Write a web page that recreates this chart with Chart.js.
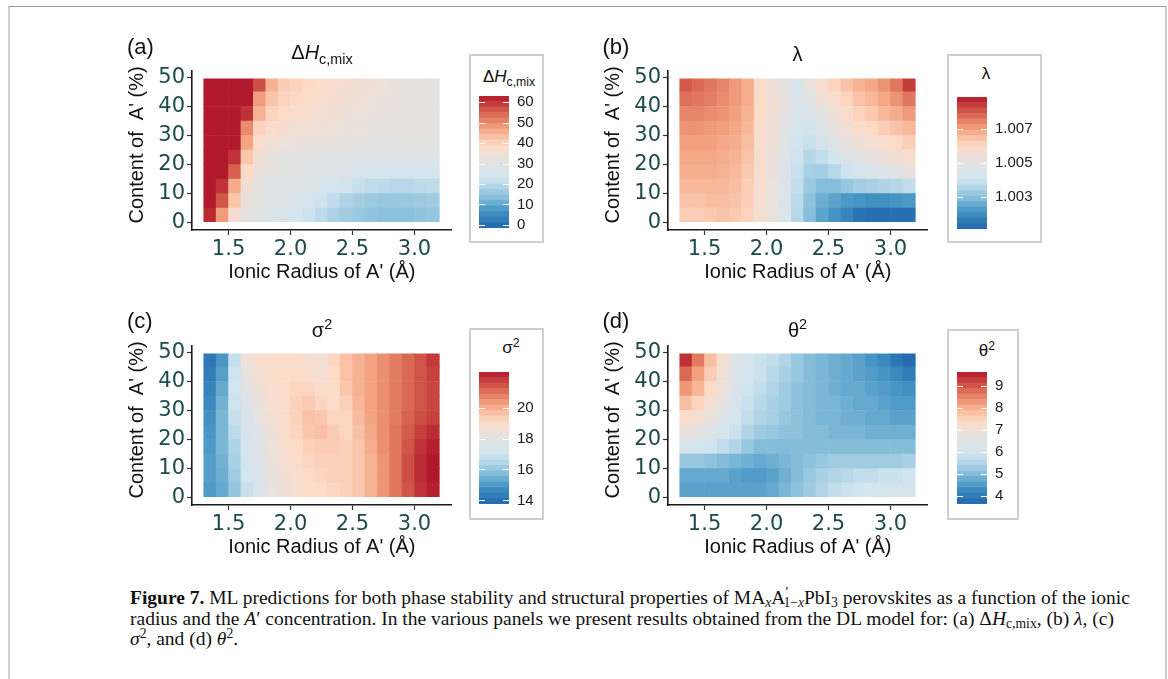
<!DOCTYPE html>
<html>
<head>
<meta charset="utf-8">
<script src="https://cdn.jsdelivr.net/npm/chart.js@4.4.1/dist/chart.umd.min.js"></script>
<style>
    body { margin: 0; background: #fff; }
    #fig { position: relative; width: 1168px; height: 679px; overflow: hidden; background: #fff;
           font-family: "Liberation Sans", Arial, sans-serif; color: #111; }
    #frame { position: absolute; left: 8px; top: 6px; width: 1155px; height: 720px;
             border-top: 1px solid #9a9a9a; border-left: 2px solid #cfcfcf; border-right: 2px solid #cfcfcf; }
    canvas { position: absolute; }
    .lab { position: absolute; font-size: 22px; transform: translateY(-50%); }
    .ttl { position: absolute; font-size: 20px; white-space: nowrap; transform: translate(-50%, -50%); }
    .cbox { position: absolute; border: 2px solid #cfcfcf; box-sizing: border-box; }
    .cttl { position: absolute; font-size: 17px; white-space: nowrap; transform: translate(-50%, -50%); }
    .ttl sub, .cttl sub { font-size: 0.72em; vertical-align: -0.3em; }
    .ttl sup, .cttl sup { font-size: 0.72em; vertical-align: 0.55em; }
    .cap { position: absolute; left: 130px; font-family: "Liberation Serif", serif; font-size: 19.5px;
           line-height: 21px; height: 21px; white-space: nowrap; color: #111; }
    .cap sub { font-size: 0.7em; vertical-align: -0.25em; line-height: 0; }
    .cap sup { font-size: 0.7em; vertical-align: 0.5em; line-height: 0; }
</style>
</head>
<body>
<div id="fig">
    <div id="frame"></div>
</div>
<script>
// tile centres along the ionic radius, tile edges along the A' content
const radius = [1.35, 1.45, 1.55, 1.65, 1.75, 1.85, 1.95, 2.05, 2.15, 2.25,
                2.35, 2.45, 2.55, 2.65, 2.75, 2.85, 2.95, 3.05, 3.15];
const contentEdges = [0.4, 5, 10, 15, 20, 25, 30, 35, 40, 45, 49.5];
const xTicks = [1.5, 2.0, 2.5, 3.0];
const yTicks = [0, 10, 20, 30, 40, 50];

// rows listed from the top (45-50 %) down to the bottom (0-5 %)
const dHmix = [
    [63, 63, 63, 63, 57, 45, 41, 40, 39, 38, 37, 36, 35, 34, 33.5, 33, 32, 31.5, 31],
    [63, 63, 63, 63, 48, 42, 40, 39, 38, 37, 36, 35, 34, 33.5, 33, 32.5, 32, 31.5, 31],
    [63, 63, 63, 60, 45, 40, 38.5, 37.5, 36.5, 35.5, 35, 34, 33.5, 33, 32.5, 32, 31.5, 31.5, 31],
    [63, 63, 63, 50, 40, 37.5, 36, 35, 34.5, 34, 33.5, 33, 32.5, 32, 32, 32, 31.5, 31.5, 31.5],
    [63, 63, 63, 47, 38, 35, 33.5, 33, 32.5, 32, 32, 31.5, 31, 31, 30.5, 30.5, 30.5, 30.5, 30.5],
    [63, 63, 60, 42, 35, 32, 31, 30.5, 30, 29.5, 29, 29, 28.5, 28, 28, 28, 28, 28, 28],
    [63, 63, 55, 39, 33, 31, 30, 29.5, 29, 28.5, 27.5, 27, 26, 25.5, 25, 24.5, 24.5, 24.5, 25],
    [63, 60, 46, 35, 31, 29.5, 28.5, 27.5, 26.5, 25.5, 24, 23, 21.5, 20.5, 20, 19.5, 19.5, 20, 20.5],
    [63, 56, 42, 33, 30, 28.5, 27.5, 26, 24.5, 22.5, 20.5, 18.5, 17, 16, 15.5, 15.5, 15.5, 16, 16.5],
    [61, 48, 36, 31, 29, 27.5, 26, 24, 22, 20, 18, 16.5, 15.5, 14.5, 14, 14, 14, 14.5, 15]
];
const lambda = [
    [1.0080, 1.0078, 1.0076, 1.0074, 1.0071, 1.0068, 1.0058, 1.0054, 1.0050, 1.0043, 1.0052, 1.0057, 1.0061, 1.0064, 1.0067, 1.0069, 1.0072, 1.0076, 1.0084],
    [1.0077, 1.0076, 1.0075, 1.0073, 1.0071, 1.0068, 1.0059, 1.0055, 1.0051, 1.0044, 1.0048, 1.0054, 1.0058, 1.0061, 1.0064, 1.0066, 1.0069, 1.0072, 1.0076],
    [1.0074, 1.0074, 1.0073, 1.0072, 1.0070, 1.0067, 1.0059, 1.0055, 1.0050, 1.0044, 1.0045, 1.0050, 1.0055, 1.0058, 1.0061, 1.0063, 1.0066, 1.0068, 1.0071],
    [1.0072, 1.0072, 1.0071, 1.0070, 1.0069, 1.0066, 1.0058, 1.0054, 1.0049, 1.0043, 1.0042, 1.0046, 1.0051, 1.0055, 1.0058, 1.0060, 1.0062, 1.0064, 1.0066],
    [1.0070, 1.0070, 1.0070, 1.0069, 1.0068, 1.0065, 1.0058, 1.0054, 1.0048, 1.0041, 1.0039, 1.0042, 1.0047, 1.0051, 1.0054, 1.0056, 1.0058, 1.0060, 1.0062],
    [1.0069, 1.0069, 1.0069, 1.0068, 1.0067, 1.0064, 1.0057, 1.0053, 1.0047, 1.0040, 1.0036, 1.0038, 1.0042, 1.0046, 1.0049, 1.0051, 1.0053, 1.0055, 1.0057],
    [1.0068, 1.0068, 1.0068, 1.0067, 1.0066, 1.0063, 1.0057, 1.0053, 1.0046, 1.0039, 1.0034, 1.0033, 1.0036, 1.0040, 1.0043, 1.0045, 1.0047, 1.0049, 1.0051],
    [1.0066, 1.0066, 1.0066, 1.0066, 1.0065, 1.0062, 1.0057, 1.0052, 1.0045, 1.0038, 1.0032, 1.0029, 1.0029, 1.0031, 1.0033, 1.0034, 1.0035, 1.0036, 1.0038],
    [1.0064, 1.0064, 1.0065, 1.0065, 1.0064, 1.0062, 1.0056, 1.0052, 1.0045, 1.0037, 1.0030, 1.0026, 1.0024, 1.0022, 1.0021, 1.0020, 1.0020, 1.0021, 1.0022],
    [1.0062, 1.0062, 1.0063, 1.0064, 1.0063, 1.0061, 1.0056, 1.0052, 1.0045, 1.0036, 1.0029, 1.0024, 1.0021, 1.0018, 1.0014, 1.0013, 1.0013, 1.0013, 1.0013]
];
const sigma2 = [
    [14.2, 14.9, 16.8, 18.4, 18.8, 18.9, 19.0, 19.0, 18.7, 18.6, 19.2, 19.6, 19.9, 20.2, 20.5, 20.8, 21.1, 21.4, 21.8],
    [14.3, 15.1, 16.9, 18.2, 18.7, 18.9, 19.0, 19.1, 18.9, 18.7, 19.1, 19.6, 19.9, 20.2, 20.5, 20.8, 21.1, 21.4, 21.7],
    [14.5, 15.3, 17.0, 17.9, 18.5, 18.8, 19.0, 19.2, 19.2, 18.9, 19.0, 19.5, 19.9, 20.2, 20.5, 20.8, 21.1, 21.4, 21.6],
    [14.6, 15.5, 16.9, 17.6, 18.3, 18.7, 19.0, 19.3, 19.4, 19.2, 19.0, 19.3, 19.8, 20.2, 20.5, 20.8, 21.1, 21.4, 21.6],
    [14.8, 15.6, 16.8, 17.4, 18.1, 18.6, 19.0, 19.3, 19.6, 19.5, 19.2, 19.2, 19.7, 20.2, 20.5, 20.8, 21.2, 21.5, 21.7],
    [14.9, 15.6, 16.6, 17.3, 17.9, 18.5, 18.9, 19.2, 19.5, 19.6, 19.4, 19.2, 19.6, 20.1, 20.5, 20.9, 21.3, 21.7, 22.0],
    [15.0, 15.6, 16.4, 17.2, 17.8, 18.4, 18.8, 19.1, 19.3, 19.4, 19.4, 19.3, 19.5, 20.0, 20.5, 20.9, 21.4, 21.9, 22.2],
    [15.1, 15.5, 16.3, 17.1, 17.7, 18.3, 18.7, 19.0, 19.2, 19.3, 19.3, 19.3, 19.5, 19.9, 20.4, 20.9, 21.5, 22.0, 22.3],
    [15.1, 15.4, 16.1, 17.0, 17.6, 18.2, 18.6, 18.9, 19.1, 19.2, 19.3, 19.3, 19.5, 19.9, 20.4, 20.9, 21.5, 22.0, 22.3],
    [15.0, 15.3, 15.9, 16.8, 17.5, 18.1, 18.5, 18.8, 19.0, 19.1, 19.2, 19.3, 19.5, 19.9, 20.4, 20.9, 21.4, 21.9, 22.2]
];
const theta2 = [
    [9.4, 8.6, 7.8, 7.1, 6.5, 6.1, 5.8, 5.7, 5.5, 5.2, 5.0, 4.9, 4.8, 4.7, 4.6, 4.4, 4.2, 3.9, 3.7],
    [8.8, 8.2, 7.6, 7.0, 6.4, 6.0, 5.8, 5.6, 5.4, 5.2, 5.0, 4.9, 4.8, 4.7, 4.6, 4.5, 4.4, 4.2, 4.0],
    [8.3, 7.9, 7.4, 6.9, 6.3, 5.9, 5.7, 5.5, 5.3, 5.1, 5.0, 4.9, 4.8, 4.7, 4.7, 4.6, 4.5, 4.4, 4.3],
    [7.8, 7.5, 7.1, 6.7, 6.2, 5.8, 5.6, 5.4, 5.3, 5.1, 5.0, 4.9, 4.9, 4.8, 4.7, 4.7, 4.6, 4.5, 4.5],
    [7.3, 7.1, 6.8, 6.4, 6.0, 5.7, 5.5, 5.4, 5.2, 5.1, 5.0, 4.9, 4.9, 4.8, 4.8, 4.7, 4.7, 4.6, 4.6],
    [6.8, 6.6, 6.4, 6.1, 5.8, 5.5, 5.3, 5.2, 5.1, 5.1, 5.0, 5.0, 4.9, 4.9, 4.9, 4.8, 4.8, 4.8, 4.8],
    [6.1, 6.0, 5.9, 5.7, 5.5, 5.2, 5.0, 5.0, 5.0, 5.0, 5.0, 5.0, 5.0, 5.0, 5.0, 5.0, 5.0, 5.0, 5.0],
    [5.2, 5.2, 5.1, 5.0, 4.9, 4.8, 4.7, 4.8, 4.9, 5.0, 5.1, 5.2, 5.3, 5.3, 5.3, 5.3, 5.3, 5.3, 5.4],
    [4.7, 4.7, 4.7, 4.7, 4.6, 4.5, 4.5, 4.6, 4.8, 5.0, 5.2, 5.4, 5.5, 5.6, 5.7, 5.7, 5.8, 5.8, 5.9],
    [4.6, 4.6, 4.6, 4.6, 4.6, 4.6, 4.6, 4.7, 4.9, 5.1, 5.3, 5.5, 5.7, 5.8, 5.9, 6.0, 6.0, 6.1, 6.1]
];

// colour-bar limits and labels
const dHmixRange = [-1.5, 63];
const dHmixTicks = [0, 10, 20, 30, 40, 50, 60];
const lambdaRange = [1.0011, 1.0089];
const lambdaTicks = [1.003, 1.005, 1.007];
const sigma2Range = [13.77, 22.3];
const sigma2Ticks = [14, 16, 18, 20];
const theta2Range = [3.62, 9.65];
const theta2Ticks = [4, 5, 6, 7, 8, 9];

const palette = ['#2166ac', '#4393c3', '#92c5de', '#d1e5f0', '#e3e2e1', '#fddbc7', '#f4a582', '#d6604d', '#b2182b'];

function hexToRgb(h) {
    return [parseInt(h.slice(1, 3), 16), parseInt(h.slice(3, 5), 16), parseInt(h.slice(5, 7), 16)];
}

function colourFor(v, range) {
    let t = (v - range[0]) / (range[1] - range[0]);
    t = Math.max(0, Math.min(1, t));
    const p = t * (palette.length - 1);
    const i = Math.min(Math.floor(p), palette.length - 2);
    const f = p - i;
    const a = hexToRgb(palette[i]), b = hexToRgb(palette[i + 1]);
    const c = a.map((x, k) => Math.round(x + (b[k] - x) * f));
    return `rgb(${c[0]},${c[1]},${c[2]})`;
}

const fig = document.getElementById('fig');
const tickFont = { family: '"DejaVu Sans", sans-serif', size: 21 };
const tickColour = '#1d4a4c';
const titleFont = { family: '"Liberation Sans", Arial, sans-serif', size: 20 };

function addCanvas(left, top, w, h) {
    const c = document.createElement('canvas');
    c.width = w; c.height = h;
    c.style.left = left + 'px'; c.style.top = top + 'px';
    c.style.width = w + 'px'; c.style.height = h + 'px';
    fig.appendChild(c);
    return c;
}

function addHtml(cls, left, top, html, extra) {
    const d = document.createElement('div');
    d.className = cls;
    d.style.left = left + 'px'; d.style.top = top + 'px';
    if (extra) Object.assign(d.style, extra);
    d.innerHTML = html;
    fig.appendChild(d);
    return d;
}

function drawHeatmap(grid, range, dx, dy) {
    const cells = [], colours = [];
    const n = contentEdges.length - 1;
    grid.forEach((row, r) => {
        const lo = contentEdges[n - 1 - r], hi = contentEdges[n - r];
        row.forEach((v, c) => {
            cells.push({ x: radius[c], y: [lo, hi] });
            colours.push(colourFor(v, range));
        });
    });

    const canvas = addCanvas(125 + dx, 50 + dy, 331, 234);
    new Chart(canvas, {
        type: 'bar',
        data: {
            datasets: [{
                data: cells,
                backgroundColor: colours,
                borderWidth: 0,
                barPercentage: 1,
                categoryPercentage: 1,
            }],
        },
        options: {
            responsive: false,
            animation: false,
            events: [],
            layout: { padding: { top: 21, right: 4.3, left: 0, bottom: 0 } },
            plugins: { legend: { display: false }, tooltip: { enabled: false } },
            scales: {
                x: {
                    type: 'linear',
                    min: 1.205,
                    max: 3.3,
                    offset: false,
                    afterBuildTicks: s => { s.ticks = xTicks.map(v => ({ value: v })); },
                    afterFit: s => { s.height = 54; },
                    grid: { display: true, drawOnChartArea: false, drawTicks: true, tickLength: 5, tickColor: '#333', tickWidth: 1.2, offset: false },
                    border: { display: true, color: '#1a1a1a', width: 1.6 },
                    ticks: { font: tickFont, color: tickColour, padding: 2, maxRotation: 0, callback: v => v.toFixed(1) },
                    title: { display: true, text: "Ionic Radius of A' (Å)", font: titleFont, color: '#111', padding: 0 },
                },
                y: {
                    type: 'linear',
                    min: -2.5,
                    max: 52.2,
                    afterBuildTicks: s => { s.ticks = yTicks.map(v => ({ value: v })); },
                    afterFit: s => { s.width = 67; },
                    grid: { display: true, drawOnChartArea: false, drawTicks: true, tickLength: 5, tickColor: '#333', tickWidth: 1.2 },
                    border: { display: true, color: '#1a1a1a', width: 1.6 },
                    ticks: { font: tickFont, color: tickColour, padding: 2, callback: v => String(v) },
                    title: { display: true, text: "  Content of  A' (%)", font: titleFont, color: '#111', padding: 0 },
                },
            },
        },
    });
}

const whiteTicks = {
    id: 'whiteTicks',
    afterDatasetsDraw(chart) {
        const { ctx, chartArea } = chart;
        const scale = chart.scales.y;
        ctx.save();
        ctx.strokeStyle = '#ffffff';
        ctx.lineWidth = 1;
        scale.ticks.forEach(t => {
            const y = Math.round(scale.getPixelForValue(t.value)) + 0.5;
            ctx.beginPath();
            ctx.moveTo(chartArea.left, y); ctx.lineTo(chartArea.left + 6, y);
            ctx.moveTo(chartArea.right - 6, y); ctx.lineTo(chartArea.right, y);
            ctx.stroke();
        });
        ctx.restore();
    },
};

function drawColourbar(range, ticks, digits, barLeft, barTop, barBottom, width) {
    const nbin = 24;
    const step = (range[1] - range[0]) / nbin;
    const datasets = [];
    for (let i = 0; i < nbin; i++) {
        const lo = range[0] + i * step;
        datasets.push({
            data: [[lo, lo + step]],
            backgroundColor: colourFor(lo + step / 2, range),
            borderWidth: 0,
            grouped: false,
            barPercentage: 1,
            categoryPercentage: 1,
        });
    }
    const canvas = addCanvas(barLeft, barTop - 10, width, barBottom - barTop + 20);
    new Chart(canvas, {
        type: 'bar',
        data: { labels: [''], datasets },
        options: {
            responsive: false,
            animation: false,
            events: [],
            layout: { padding: { top: 10, bottom: 10, left: 0, right: 0 } },
            plugins: { legend: { display: false }, tooltip: { enabled: false } },
            scales: {
                x: { display: false },
                y: {
                    position: 'right',
                    min: range[0],
                    max: range[1],
                    afterBuildTicks: s => { s.ticks = ticks.map(v => ({ value: v })); },
                    afterFit: s => { s.width = width - 30; },
                    grid: { display: false, drawTicks: false },
                    border: { display: false },
                    ticks: { font: { family: '"Liberation Sans", Arial, sans-serif', size: 15 }, color: '#1a1a1a', padding: 8, callback: v => v.toFixed(digits) },
                },
            },
        },
        plugins: [whiteTicks],
    });
}

const panels = [
    { grid: dHmix, range: dHmixRange, ticks: dHmixTicks, digits: 0, dx: 0, dy: 0, label: '(a)',
      title: 'Δ<i>H</i><sub>c,mix</sub>', box: [469, 54, 75, 189], bar: [479, 89, 235], cbW: 62, ct: [509, 78] },
    { grid: lambda, range: lambdaRange, ticks: lambdaTicks, digits: 3, dx: 475.5, dy: 0, label: '(b)',
      title: 'λ', box: [947, 54, 95, 189], bar: [957, 90, 236], cbW: 82, ct: [986, 74] },
    { grid: sigma2, range: sigma2Range, ticks: sigma2Ticks, digits: 0, dx: 0, dy: 274.5, label: '(c)',
      title: 'σ<sup>2</sup>', box: [469, 328, 75, 192], bar: [479, 365, 511], cbW: 62, ct: [511, 347] },
    { grid: theta2, range: theta2Range, ticks: theta2Ticks, digits: 0, dx: 475.5, dy: 274.5, label: '(d)',
      title: 'θ<sup>2</sup>', box: [947, 329, 72, 191], bar: [957, 365, 511], cbW: 59, ct: [987, 350] },
];

panels.forEach(p => {
    drawHeatmap(p.grid, p.range, p.dx, p.dy);
    addHtml('lab', 127 + p.dx, 46.5 + p.dy, p.label);
    addHtml('ttl', 322 + p.dx, 54 + p.dy, p.title);
    addHtml('cbox', p.box[0], p.box[1], '', { width: p.box[2] + 'px', height: p.box[3] + 'px' });
    addHtml('cttl', p.ct[0], p.ct[1], p.title);
    drawColourbar(p.range, p.ticks, p.digits, p.bar[0], p.bar[1], p.bar[2], p.cbW);
});

addHtml('cap', 130, 587,
    '<b>Figure 7.</b> ML predictions for both phase stability and structural properties of MA<sub><i>x</i></sub>A<sup>′</sup><sub style="margin-left:-5px">1−<i>x</i></sub>PbI<sub>3</sub> perovskites as a function of the ionic');
addHtml('cap', 130, 608,
    'radius and the <i>A</i>′ concentration. In the various panels we present results obtained from the DL model for: (a) Δ<i>H</i><sub>c,mix</sub>, (b) <i>λ</i>, (c)');
addHtml('cap', 130, 628, '<i>σ</i><sup>2</sup>, and (d) <i>θ</i><sup>2</sup>.');
</script>
</body>
</html>
